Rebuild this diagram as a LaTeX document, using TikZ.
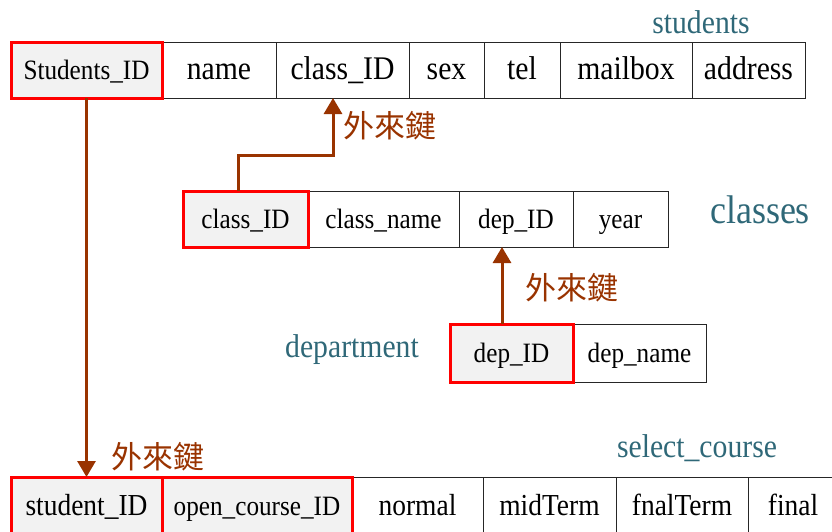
\documentclass[tikz,border=0pt]{standalone}
\usepackage{fontspec}
\setmainfont{Liberation Serif}[FakeStretch=0.9]
\newfontfamily\cjk{Noto Sans CJK TC}
\usetikzlibrary{arrows.meta,positioning}
\definecolor{fkbrown}{HTML}{993300}
\definecolor{tblteal}{HTML}{2F6878}
\definecolor{keygray}{HTML}{F2F2F2}
\newcommand{\fs}[1]{\fontsize{#1}{#1}\selectfont}

\begin{document}
\begin{tikzpicture}[x=1pt,y=-1pt,>={Triangle[width=18pt,length=16pt]},
  cell/.style={draw=black!85,line width=1pt,inner sep=0pt,outer sep=0pt,
    minimum height=56pt,text height=18pt,text depth=0pt,font=\fs{28}},
  keycell/.style={cell,fill=keygray},
  keyframe/.style={draw=red,line width=3pt},
  tblname/.style={text=tblteal,inner sep=0pt,anchor=base,font=\fs{33}},
  fk/.style={->,draw=fkbrown,line width=3pt},
  fklabel/.style={text=fkbrown,inner sep=0pt,font=\cjk\fs{31}}]
  \useasboundingbox (0,0) rectangle (832,531);

  % students
  \begin{scope}[every node/.append style={text height=23pt}]
  \node[keycell,minimum width=151pt] (s-id) at (86.5,70) {Students\_ID};
  \node[cell,font=\fs{33},minimum width=114pt,right=0pt of s-id] (s-name) {name};
  \node[cell,font=\fs{33},minimum width=133pt,right=0pt of s-name] (s-cid) {class\_ID};
  \node[cell,font=\fs{33},minimum width=75pt,right=0pt of s-cid] (s-sex) {sex};
  \node[cell,font=\fs{33},minimum width=76pt,right=0pt of s-sex] (s-tel) {tel};
  \node[cell,font=\fs{33},minimum width=132pt,right=0pt of s-tel] (s-mail) {mailbox};
  \node[cell,font=\fs{33},minimum width=113pt,right=0pt of s-mail] (s-addr) {address};
  \end{scope}
  \node[tblname] (t-stu) at (701,33) {students};

  % classes
  \node[keycell,minimum width=125pt] (c-id) at (245.5,219) {class\_ID};
  \node[cell,minimum width=151pt,right=0pt of c-id] (c-name) {class\_name};
  \node[cell,minimum width=114pt,right=0pt of c-name] (c-dep) {dep\_ID};
  \node[cell,minimum width=95pt,right=0pt of c-dep] (c-year) {year};
  \node[tblname,font=\fs{40}] (t-cls) at (760,223) {classes};

  % department
  \node[keycell,minimum width=123pt,minimum height=58pt] (d-id) at (511.5,353) {dep\_ID};
  \node[cell,minimum width=133pt,minimum height=58pt,right=0pt of d-id] (d-name) {dep\_name};
  \node[tblname] (t-dep) at (352,357) {department};

  % select_course
  \begin{scope}[every node/.append style={text height=14pt}]
  \node[keycell,font=\fs{30.5},minimum width=151pt,minimum height=58pt] (sc-id) at (86.5,506) {student\_ID};
  \node[keycell,minimum width=190pt,minimum height=58pt,right=0pt of sc-id] (sc-ocid) {open\_course\_ID};
  \node[cell,font=\fs{30.5},minimum width=131pt,minimum height=58pt,right=0pt of sc-ocid] (sc-norm) {normal};
  \node[cell,font=\fs{30.5},minimum width=133pt,minimum height=58pt,right=0pt of sc-norm] (sc-mid) {midTerm};
  \node[cell,font=\fs{30.5},minimum width=132pt,minimum height=58pt,right=0pt of sc-mid] (sc-fnal) {fnalTerm};
  \node[cell,font=\fs{30.5},minimum width=90pt,minimum height=58pt,right=0pt of sc-fnal] (sc-final) {final};
  \end{scope}
  \node[tblname] (t-sel) at (697,457) {select\_course};

  % primary keys
  \foreach \k in {s-id,c-id,d-id,sc-id,sc-ocid}
    \draw[keyframe] (\k.north west) rectangle (\k.south east);

  % foreign keys
  \draw[fk] (s-id.south) -- (sc-id.north);
  \draw[fk] ([xshift=-7.5pt]c-id.north) -- ++(0,-36) -| ([xshift=-9.5pt]s-cid.south);
  \draw[fk] ([xshift=-9.5pt]d-id.north) -- ([xshift=-9.5pt]d-id.north |- c-dep.south);
  \node[fklabel] (fk-cls) at (390,126) {外來鍵};
  \node[fklabel] (fk-dep) at (572,288) {外來鍵};
  \node[fklabel] (fk-sel) at (158,457) {外來鍵};
\end{tikzpicture}
\end{document}
